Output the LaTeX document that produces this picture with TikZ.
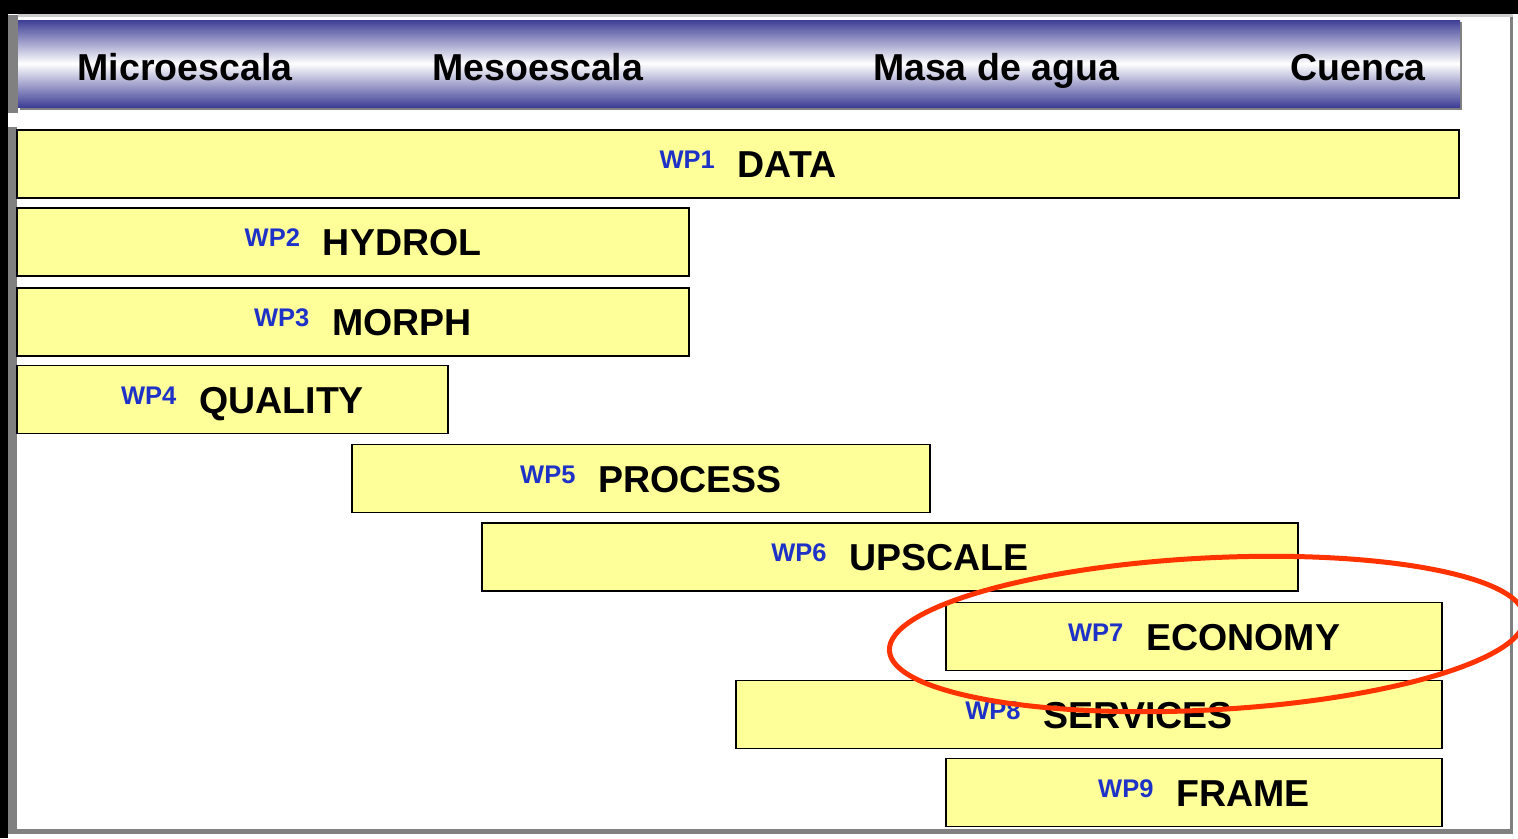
\documentclass[tikz,border=0pt]{standalone}
\usepackage{fontspec}
\setmainfont{Liberation Sans}
\usetikzlibrary{positioning}

\definecolor{hdrblue}{RGB}{62,62,150}
\definecolor{wpblue}{RGB}{30,50,200}
\definecolor{baryellow}{RGB}{255,255,153}
\definecolor{ovalred}{RGB}{255,51,0}
\definecolor{framegray}{RGB}{128,128,128}

\newcommand{\wptag}[1]{\raisebox{9pt}{\fontsize{25.5}{25.5}\selectfont\color{wpblue}#1}\hspace{23pt}}

\begin{document}
\begin{tikzpicture}[x=1pt,y=-1pt]
\tikzset{bar/.style={draw=black, line width=1.6pt, rectangle, fill=baryellow, inner sep=0pt, minimum height=68pt},
         barlabel/.style={anchor=base, inner sep=0pt, font=\bfseries\fontsize{37.5}{37.5}\selectfont},
         scalelabel/.style={anchor=base, inner sep=0pt, font=\bfseries\fontsize{37.5}{37.5}\selectfont}}
\useasboundingbox (0,0) rectangle (1518,838);
% page and frame
\fill[black] (0,0) rectangle (1518,838);
\fill[white] (8,14) rectangle (1518,838);
\fill[framegray] (8,15) rectangle (18,113);
\fill[framegray] (8,127) rectangle (17,834);
\fill[framegray] (8,829) rectangle (1513,834);
\fill[framegray] (1510,15) rectangle (1513,834);
\fill[gray!40] (18,14) rectangle (1513,17);
% header bar
\fill[framegray] (20,22) rectangle (1462,110);
\node[rectangle, inner sep=0pt, minimum width=1442pt, minimum height=87pt, top color=hdrblue, bottom color=hdrblue, middle color=white] (hdr) at (739,63.5) {};
\node[scalelabel] (micro) at (185,80) {Microescala};
\node[scalelabel] (meso) at (538,80) {Mesoescala};
\node[scalelabel] (masa) at (996,80) {Masa de agua};
\node[scalelabel] (cuenca) at (1358,80) {Cuenca};
% work packages
\node[bar, minimum width=1442pt] (wp1) at (738,164) {};
\node[bar, minimum width=672pt] (wp2) at (353,242) {};
\node[bar, minimum width=672pt] (wp3) at (353,322) {};
\node[bar, minimum width=431pt] (wp4) at (232.5,399.5) {};
\node[bar, minimum width=578pt] (wp5) at (641,478.5) {};
\node[bar, minimum width=816pt] (wp6) at (890,557) {};
\node[bar, minimum width=496pt] (wp7) at (1194,636.5) {};
\node[bar, minimum width=706pt] (wp8) at (1089,714.5) {};
\node[bar, minimum width=496pt] (wp9) at (1194,792.5) {};
\node[barlabel] (t1) at ([xshift=10pt,yshift=-13.5pt]wp1.center) {\wptag{WP1}DATA};
\node[barlabel] (t2) at ([xshift=10pt,yshift=-13.5pt]wp2.center) {\wptag{WP2}HYDROL};
\node[barlabel] (t3) at ([xshift=10pt,yshift=-13.5pt]wp3.center) {\wptag{WP3}MORPH};
\node[barlabel] (t4) at ([xshift=10pt,yshift=-13.5pt]wp4.center) {\wptag{WP4}QUALITY};
\node[barlabel] (t5) at ([xshift=10pt,yshift=-13.5pt]wp5.center) {\wptag{WP5}PROCESS};
\node[barlabel] (t6) at ([xshift=10pt,yshift=-13.5pt]wp6.center) {\wptag{WP6}UPSCALE};
\node[barlabel] (t7) at ([xshift=10pt,yshift=-13.5pt]wp7.center) {\wptag{WP7}ECONOMY};
\node[barlabel] (t8) at ([xshift=10pt,yshift=-13.5pt]wp8.center) {\wptag{WP8}SERVICES};
\node[barlabel] (t9) at ([xshift=10pt,yshift=-13.5pt]wp9.center) {\wptag{WP9}FRAME};
% highlight
\draw[ovalred, line width=5pt, rotate around={3:(1207,634)}] (1207,634) ellipse [x radius=318, y radius=76];
\end{tikzpicture}
\end{document}
